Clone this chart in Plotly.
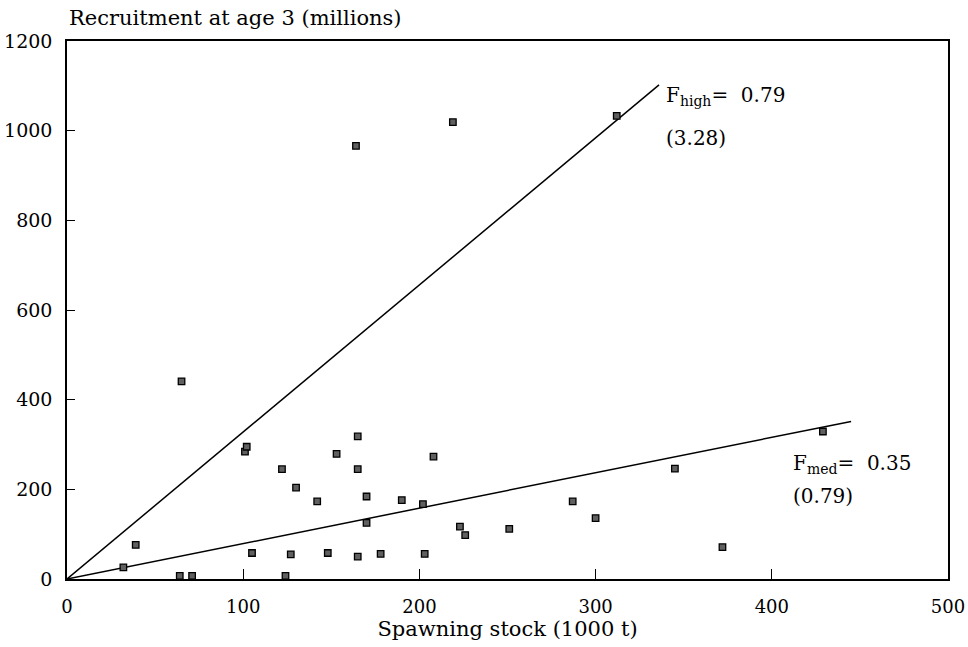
import plotly.graph_objects as go

# Spawning stock (1000 t) and recruitment at age 3 (millions)
stock = [32, 39, 65, 64, 71, 101, 102, 105, 122, 124, 127, 130, 142, 148, 153,
         165, 165, 165, 164, 170, 170, 178, 190, 202, 203, 208, 219, 223, 226,
         251, 287, 300, 312, 345, 372, 429]
recruit = [26, 76, 441, 7, 7, 284, 295, 58, 245, 7, 55, 204, 173, 58, 279,
           318, 245, 50, 966, 184, 125, 56, 176, 167, 56, 273, 1019, 117, 98,
           112, 173, 136, 1033, 246, 71, 329]

# Replacement lines: subscript name, slope (R/S), x extent, F value
line_names = ["high", "med"]
line_slopes = [3.28, 0.79]
line_xmax = [336, 445]
line_F = ["0.79", "0.35"]

FONT = "DejaVu Serif"

fig = go.Figure()

for s, xm in zip(line_slopes, line_xmax):
    fig.add_trace(go.Scatter(
        x=[0, xm], y=[0, s * xm], mode="lines",
        line=dict(color="black", width=1.5), hoverinfo="skip", showlegend=False))

fig.add_trace(go.Scatter(
    x=stock, y=recruit, mode="markers",
    marker=dict(symbol="square", size=6.5, color="#606060",
                line=dict(color="black", width=1.3)),
    showlegend=False))

# Labels for lines (position in data units)
label_x = [339, 411]
label_top = [1110, 291]
label_second = [984, 185]
for name, s, F, lx, lt, l2 in zip(line_names, line_slopes, line_F, label_x, label_top, label_second):
    fig.add_annotation(x=lx, y=lt, xref="x", yref="y", xanchor="left", yanchor="top",
                       text="F<sub style='font-size:85%'>" + name + "</sub>=  " + F,
                       showarrow=False, align="left",
                       font=dict(family=FONT, size=20, color="black"))
    fig.add_annotation(x=lx, y=l2, xref="x", yref="y", xanchor="left", yanchor="middle",
                       text="(" + f"{s:.2f}" + ")",
                       showarrow=False, align="left",
                       font=dict(family=FONT, size=20, color="black"))

fig.add_annotation(x=0, y=1.016, xref="paper", yref="paper", xanchor="left", yanchor="bottom",
                   text="Recruitment at age 3 (millions)", showarrow=False,
                   font=dict(family=FONT, size=21, color="black"))

fig.update_layout(
    width=968, height=647,
    margin=dict(l=67, r=20, t=41, b=68),
    paper_bgcolor="white", plot_bgcolor="white",
    font=dict(family=FONT, size=19, color="black"),
    xaxis=dict(range=[0, 500], tickvals=[0, 100, 200, 300, 400, 500],
               showgrid=False, zeroline=False, showline=True, mirror=True,
               linecolor="black", linewidth=1.5, automargin=False,
               ticks="inside", ticklen=10, tickcolor="black", tickwidth=1.3,
               ticklabelstandoff=11,
               tickfont=dict(family=FONT, size=18),
               title=dict(text="Spawning stock (1000 t)", standoff=1,
                          font=dict(family=FONT, size=21))),
    yaxis=dict(range=[0, 1200], tickvals=[0, 200, 400, 600, 800, 1000, 1200],
               showgrid=False, zeroline=False, showline=True, mirror=True,
               linecolor="black", linewidth=1.5, automargin=False,
               ticks="inside", ticklen=8, tickcolor="black", tickwidth=1.3,
               ticklabelstandoff=9,
               tickfont=dict(family=FONT, size=19)),
)

fig.write_html("out.html")
